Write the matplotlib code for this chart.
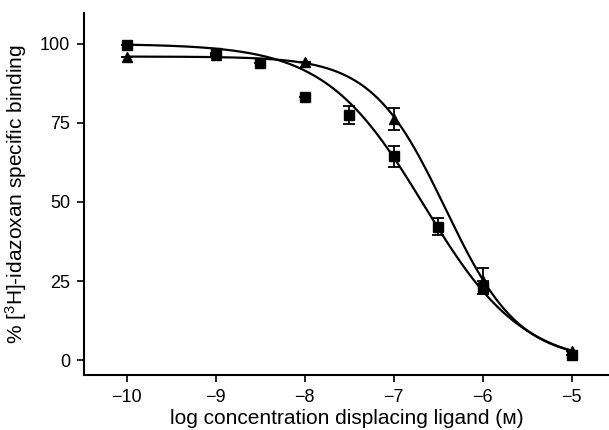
import numpy as np
import matplotlib
matplotlib.use("Agg")
import matplotlib.pyplot as plt

plt.rcParams['font.family'] = ['Liberation Sans', 'DejaVu Sans']
plt.rcParams['mathtext.fontset'] = 'custom'
plt.rcParams['mathtext.rm'] = 'Liberation Sans'
plt.rcParams['mathtext.it'] = 'Liberation Sans'

# Data
sq_x = [-10, -9, -8.5, -8, -7.5, -7, -6.5, -6, -5]
sq_y = [99.5, 97.0, 94.0, 83.3, 77.5, 64.5, 42.2, 23.0, 1.6]
sq_err = [0, 0, 0, 0, 2.7, 3.3, 2.6, 2.0, 0]

tri_x = [-10, -9, -8, -7, -6, -5]
tri_y = [95.8, 96.5, 94.2, 76.2, 25.0, 3.0]
tri_err = [0, 0, 0, 3.5, 4.0, 0]

# Fitted logistic parameters (top, bottom, logIC50, Hill slope)
sq_fit = (100.0, -2.0, -6.66, 0.78)
tri_fit = (96.0, 0.0, -6.42, 1.05)

xticks = [-10, -9, -8, -7, -6, -5]
yticks = [0, 25, 50, 75, 100]


def logistic(x, p):
    top, bottom, c, n = p
    return bottom + (top - bottom) / (1 + 10 ** ((x - c) * n))


fig = plt.figure(figsize=(6.09, 4.30), dpi=100)
ax = fig.add_axes([0.138, 0.128, 0.862, 0.842])

xs = np.linspace(-10, -5, 300)
ax.plot(xs, logistic(xs, sq_fit), color='black', lw=1.6, zorder=2)
ax.plot(xs, logistic(xs, tri_fit), color='black', lw=1.6, zorder=2)

ax.errorbar(sq_x, sq_y, yerr=sq_err, fmt='s', color='black', ms=6.5,
            capsize=4, elinewidth=1.3, capthick=1.3, zorder=3)
ax.errorbar(tri_x, tri_y, yerr=tri_err, fmt='^', color='black', ms=6.5,
            capsize=4, elinewidth=1.3, capthick=1.3, zorder=3)

ax.set_xlim(-10.48, -4.58)
ax.set_ylim(-4.7, 109.8)
ax.set_xticks(xticks)
ax.set_xticklabels([f"\u2212{abs(t)}" for t in xticks])
ax.set_yticks(yticks)

for s in ['top', 'right']:
    ax.spines[s].set_visible(False)
for s in ['left', 'bottom']:
    ax.spines[s].set_linewidth(1.5)
ax.tick_params(direction='out', length=5, width=1.2, labelsize=13, pad=5)

ax.set_xlabel("log concentration displacing ligand (\u1d0d)", fontsize=15,
              family=['Liberation Sans', 'DejaVu Sans'], labelpad=2)
ax.set_ylabel("% [$^{3}$H]-idazoxan specific binding", fontsize=15, labelpad=8)

fig.savefig("out.png", dpi=100)
